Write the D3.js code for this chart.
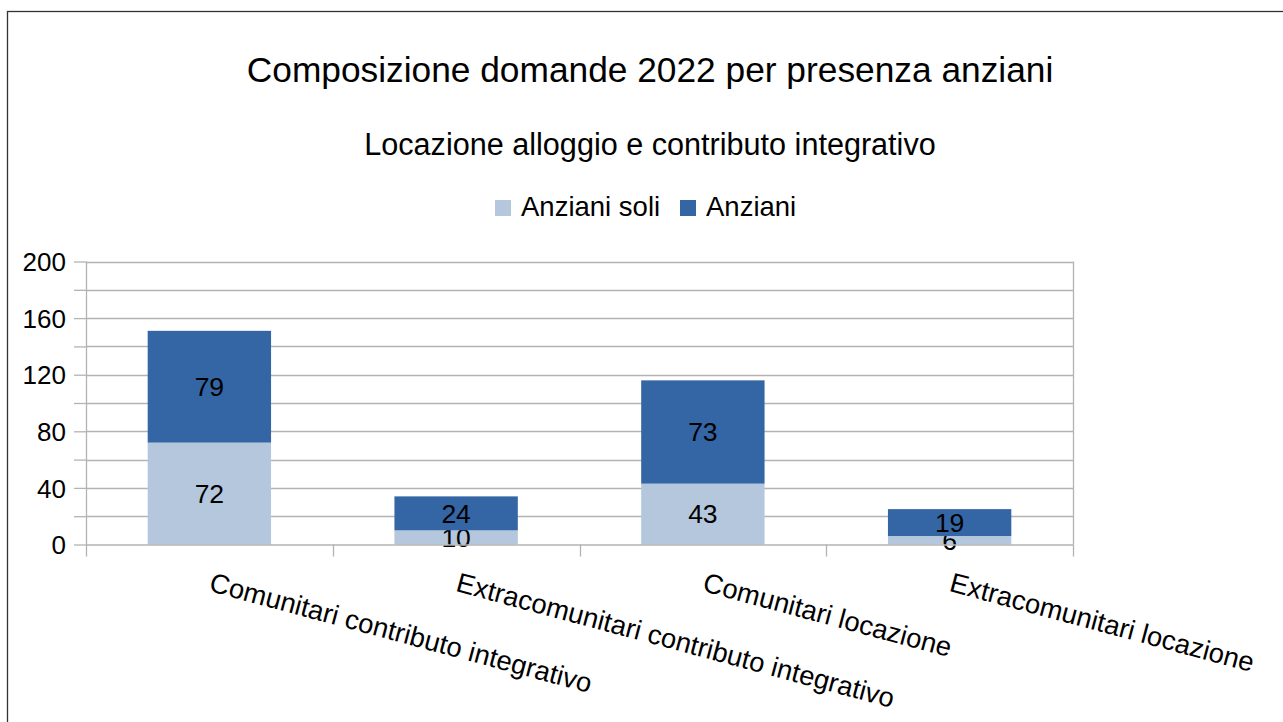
<!DOCTYPE html>
<html>
<head>
<meta charset="utf-8">
<script src="https://cdn.jsdelivr.net/npm/d3@7"></script>
<style>
  body { margin: 0; background: #fff; }
  text { font-family: "Liberation Sans", Arial, sans-serif; fill: #000; }
</style>
</head>
<body>
<div id="chart"></div>
<script>
// data
var categories = ["Comunitari contributo integrativo", "Extracomunitari contributo integrativo",
                  "Comunitari locazione", "Extracomunitari locazione"];
var seriesNames = ["Anziani soli", "Anziani"];
var anzianiSoli = [72, 10, 43, 6];
var anziani = [79, 24, 73, 19];
var yTicks = [0, 20, 40, 60, 80, 100, 120, 140, 160, 180, 200];
var colors = ["#b4c7dc", "#3465a4"];

var width = 1283, height = 722;
var plot = {left : 86, right : 1073, top : 261.5, bottom : 544.5};

var svg = d3.select("#chart").append("svg")
    .attr("width", width).attr("height", height);

// outer frame (cut off at right/bottom in the original)
svg.append("rect").attr("x", 7.5).attr("y", 11.5)
    .attr("width", width + 10).attr("height", height + 10)
    .attr("fill", "none").attr("stroke", "#333").attr("stroke-width", 1.3);

svg.append("text").attr("x", 650).attr("y", 82).attr("text-anchor", "middle")
    .style("font-size", "35.3px").text("Composizione domande 2022 per presenza anziani");
svg.append("text").attr("x", 650).attr("y", 155).attr("text-anchor", "middle")
    .style("font-size", "30.6px").text("Locazione alloggio e contributo integrativo");

var x = d3.scaleBand().domain(categories).range([plot.left, plot.right]).paddingInner(0).paddingOuter(0);
var y = d3.scaleLinear().domain([0, 200]).range([plot.bottom, plot.top]);

// gridlines
svg.append("g").selectAll("line").data(yTicks.filter(function(d){ return d > 0; }))
    .enter().append("line")
    .attr("x1", plot.left).attr("x2", plot.right)
    .attr("y1", function(d){ return Math.round(y(d)) + 0.5; })
    .attr("y2", function(d){ return Math.round(y(d)) + 0.5; })
    .attr("stroke", "#b3b3b3").attr("stroke-width", 1.3);

// right edge of plot
svg.append("line").attr("x1", plot.right + 0.5).attr("x2", plot.right + 0.5)
    .attr("y1", plot.top).attr("y2", plot.bottom)
    .attr("stroke", "#b3b3b3").attr("stroke-width", 1.3);

// stacked bars
var stackData = categories.map(function(c, i){
    return {cat : c, "Anziani soli" : anzianiSoli[i], "Anziani" : anziani[i]};
});
var stack = d3.stack().keys(seriesNames)(stackData);
var barW = x.bandwidth() * 0.5;

var layers = svg.append("g").selectAll("g").data(stack).enter().append("g")
    .attr("fill", function(d, i){ return colors[i]; });
layers.selectAll("rect").data(function(d){ return d; }).enter().append("rect")
    .attr("x", function(d){ return x(d.data.cat) + (x.bandwidth() - barW) / 2; })
    .attr("width", barW)
    .attr("y", function(d){ return y(d[1]); })
    .attr("height", function(d){ return y(d[0]) - y(d[1]); });

// y axis
var yAxis = d3.axisLeft(y).tickValues(yTicks).tickSize(12).tickPadding(8)
    .tickFormat(function(d){ return d % 40 == 0 ? d : ""; });
var gy = svg.append("g").attr("transform", "translate(" + plot.left + ",0)").call(yAxis);
gy.select(".domain").remove();
gy.selectAll(".tick line").attr("stroke", "#b3b3b3").attr("stroke-width", 1.3);
gy.selectAll(".tick text").style("font-size", "26px").attr("dy", "0.35em");
svg.append("line").attr("x1", plot.left + 0.5).attr("x2", plot.left + 0.5)
    .attr("y1", plot.top).attr("y2", plot.bottom + 12)
    .attr("stroke", "#b3b3b3").attr("stroke-width", 1.3);

// x axis
svg.append("line").attr("x1", plot.left).attr("x2", plot.right)
    .attr("y1", plot.bottom + 0.5).attr("y2", plot.bottom + 0.5)
    .attr("stroke", "#b3b3b3").attr("stroke-width", 1.3);
svg.append("g").selectAll("line").data(categories.slice(1).concat(["end"]))
    .enter().append("line")
    .attr("x1", function(d){ return d == "end" ? plot.right + 0.5 : Math.round(x(d)) + 0.5; })
    .attr("x2", function(d){ return d == "end" ? plot.right + 0.5 : Math.round(x(d)) + 0.5; })
    .attr("y1", plot.bottom).attr("y2", plot.bottom + 12)
    .attr("stroke", "#b3b3b3").attr("stroke-width", 1.3);

svg.append("g").selectAll("text").data(categories).enter().append("text")
    .attr("transform", function(d){
        return "translate(" + (x(d) + x.bandwidth() / 2 + 4) + "," + 571 + ") rotate(15)";
    })
    .attr("dy", "0.75em")
    .style("font-size", "27.4px")
    .text(function(d){ return d; });

// value labels
layers.selectAll("text.val").data(function(d){ return d; }).enter().append("text")
    .attr("class", "val")
    .attr("x", function(d){ return x(d.data.cat) + x.bandwidth() / 2; })
    .attr("y", function(d){ return (y(d[0]) + y(d[1])) / 2; })
    .attr("dy", "0.35em")
    .attr("text-anchor", "middle")
    .style("font-size", "26.5px")
    .style("fill", "#000")
    .text(function(d){ return d[1] - d[0]; });

// legend
var legend = svg.append("g").selectAll("g").data(seriesNames).enter().append("g")
    .attr("transform", function(d, i){ return "translate(" + [495, 680][i] + ",200)"; });
legend.append("rect").attr("width", 16).attr("height", 16)
    .attr("fill", function(d, i){ return colors[i]; });
legend.append("text").attr("x", 26).attr("y", 16)
    .style("font-size", "27.5px").text(function(d){ return d; });
</script>
</body>
</html>
